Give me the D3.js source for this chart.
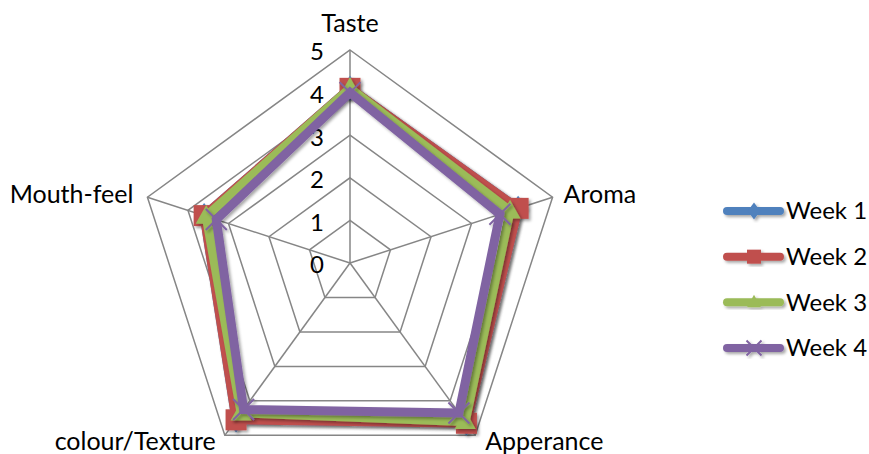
<!DOCTYPE html>
<html><head><meta charset="utf-8">
<script src="https://cdn.jsdelivr.net/npm/d3@7"></script>
<style>
body{margin:0;background:#fff}
text{font-family:Lato,"Open Sans",sans-serif;fill:#000}
</style>
</head><body>
<svg id="c" width="869" height="454"></svg>
<script>
const categories = ["Taste","Aroma","Apperance","colour/Texture","Mouth-feel"];
const seriesNames = ["Week 1","Week 2","Week 3","Week 4"];
const week1 = [4.1, 4.15, 4.65, 4.55, 3.6];
const week2 = [4.1, 4.15, 4.65, 4.55, 3.6];
const week3 = [4.1, 3.95, 4.6, 4.35, 3.55];
const week4 = [4.0, 3.7, 4.35, 4.25, 3.3];
const tickLabels = [0,1,2,3,4,5];
const colors = ["#4F81BD","#C0504D","#9BBB59","#8064A2"];
const markers = ["diamond","square","triangle","x"];

const series = [week1, week2, week3, week4];
const svg = d3.select("#c");
const cx = 350, cy = 263;
const r = d3.scaleLinear().domain([0,5]).range([0,213]);
const ang = d3.scaleLinear().domain([0,categories.length]).range([0,2*Math.PI]);
const px = (i,v) => cx + r(v)*Math.sin(ang(i));
const py = (i,v) => cy - r(v)*Math.cos(ang(i));

const defs = svg.append("defs");
const f = defs.append("filter").attr("id","sh").attr("x","-20%").attr("y","-20%").attr("width","140%").attr("height","140%");
f.append("feDropShadow").attr("dx",2).attr("dy",2).attr("stdDeviation",1.5).attr("flood-color","#000").attr("flood-opacity",0.35);

// grid rings
const ringLine = d3.lineRadial().angle((d,i)=>ang(i)).radius(d=>r(d)).curve(d3.curveLinearClosed);
const g = svg.append("g").attr("transform",`translate(${cx},${cy})`);
tickLabels.filter(t=>t>0).forEach(t=>{
  g.append("path").attr("d",ringLine(categories.map(()=>t)))
   .attr("fill","none").attr("stroke","#868686").attr("stroke-width",1.5);
});
categories.forEach((c,i)=>{
  g.append("line").attr("x1",0).attr("y1",0)
   .attr("x2",r(5)*Math.sin(ang(i))).attr("y2",-r(5)*Math.cos(ang(i)))
   .attr("stroke","#868686").attr("stroke-width",1.5);
});

// tick labels
svg.append("g").selectAll("text").data(tickLabels).join("text")
  .attr("x",cx-26).attr("y",d=>cy - r(d)+2).attr("dy","0.35em")
  .attr("text-anchor","end").attr("font-size",24).text(d=>d);

// category labels
const labelPos = [
  {dx:0, dy:-18, anchor:"middle"},
  {dx:11, dy:6, anchor:"start"},
  {dx:10, dy:15, anchor:"start"},
  {dx:-9, dy:15, anchor:"end"},
  {dx:-14, dy:6, anchor:"end"}
];
svg.append("g").selectAll("text").data(categories).join("text")
  .attr("x",(d,i)=>px(i,5)+labelPos[i].dx)
  .attr("y",(d,i)=>py(i,5)+labelPos[i].dy)
  .attr("text-anchor",(d,i)=>labelPos[i].anchor)
  .attr("font-size",25).text(d=>d);

function drawMarker(sel, type, color, x, y, s){
  if(type==="diamond"){
    sel.append("path").attr("d",`M${x},${y-s*0.6}L${x+s*0.45},${y}L${x},${y+s*0.6}L${x-s*0.45},${y}Z`).attr("fill",color);
  } else if(type==="square"){
    sel.append("rect").attr("x",x-s/2).attr("y",y-s/2).attr("width",s).attr("height",s).attr("fill",color);
  } else if(type==="triangle"){
    const h = s*0.9;
    sel.append("path").attr("d",`M${x},${y-h*0.6}L${x+s/2},${y+h*0.4}L${x-s/2},${y+h*0.4}Z`).attr("fill",color);
  } else {
    const a = s/2;
    sel.append("path").attr("d",`M${x-a},${y-a}L${x+a},${y+a}M${x-a},${y+a}L${x+a},${y-a}`)
      .attr("stroke",color).attr("stroke-width",2).attr("fill","none");
  }
}

// series
const seriesLine = d3.lineRadial().angle((d,i)=>ang(i)).radius(d=>r(d)).curve(d3.curveLinearClosed);
series.forEach((vals,k)=>{
  const sg = svg.append("g").attr("filter","url(#sh)");
  sg.append("path").attr("transform",`translate(${cx},${cy})`).attr("d",seriesLine(vals))
    .attr("fill","none").attr("stroke",colors[k]).attr("stroke-width",9).attr("stroke-linejoin","miter");
  vals.forEach((v,i)=>drawMarker(sg, markers[k], colors[k], px(i,v), py(i,v), 21));
});

// legend
const ly = d3.scalePoint().domain(seriesNames).range([211,348]);
const lg = svg.append("g");
seriesNames.forEach((n,k)=>{
  const y = ly(n);
  const gg = lg.append("g").attr("filter","url(#sh)");
  gg.append("line").attr("x1",727).attr("x2",780).attr("y1",y).attr("y2",y)
    .attr("stroke",colors[k]).attr("stroke-width",8).attr("stroke-linecap","round");
  drawMarker(gg, markers[k], colors[k], 754, y, k===3?15:14);
  lg.append("text").attr("x",786).attr("y",y).attr("dy","0.35em").attr("font-size",24).text(n);
});
</script>
</body></html>
